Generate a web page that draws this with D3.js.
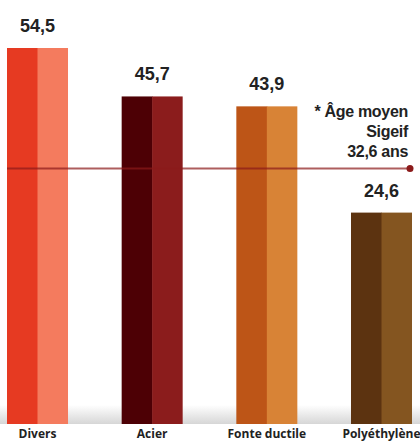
<!DOCTYPE html>
<html><head><meta charset="utf-8">
<script src="https://cdn.jsdelivr.net/npm/d3@7"></script>
<style>body{margin:0;background:#fff}svg{display:block}</style>
</head><body>
<svg id="c" width="420" height="441"></svg>
<script>
const categories = ["Divers", "Acier", "Fonte ductile", "Polyéthylène"];
const values = [54.5, 45.7, 43.9, 24.6];
const valueLabels = ["54,5", "45,7", "43,9", "24,6"];
const colorsDark = ["#e63a22", "#4d0005", "#bd5517", "#5c3310"];
const colorsLight = ["#f47b5e", "#8b1c1c", "#d88336", "#845520"];
const refValue = 32.6;
const refLabel = ["* Âge moyen", "Sigeif", "32,6 ans"];

const svg = d3.select("#c");
const W = 420, base = 424;
const x = d3.scaleBand().domain(categories).range([7, 412]).paddingInner(0.468).paddingOuter(0);
const y = d3.scaleLinear().domain([-13.8, 54.5]).range([base, 48]);

const defs = svg.append("defs");
const g = defs.append("linearGradient").attr("id","sh").attr("x1",0).attr("x2",0).attr("y1",0).attr("y2",1);
g.append("stop").attr("offset","0%").attr("stop-color","#fff");
g.append("stop").attr("offset","100%").attr("stop-color","#d6d6d6");
svg.append("rect").attr("x",0).attr("y",405).attr("width",W).attr("height",base-405).attr("fill","url(#sh)");

const data = categories.map((c,i)=>({c, v:values[i], l:valueLabels[i], d:colorsDark[i], li:colorsLight[i]}));
const bw = x.bandwidth();
const gb = svg.append("g");
gb.selectAll(".a").data(data).join("rect")
  .attr("x", d=>x(d.c)).attr("y", d=>y(d.v)).attr("width", bw/2+0.5).attr("height", d=>base-y(d.v)).attr("fill", d=>d.d);
gb.selectAll(".b").data(data).join("rect")
  .attr("x", d=>x(d.c)+bw/2).attr("y", d=>y(d.v)).attr("width", bw/2).attr("height", d=>base-y(d.v)).attr("fill", d=>d.li);

svg.selectAll(".vl").data(data).join("text")
  .attr("x", d=>x(d.c)+bw/2).attr("y", d=>y(d.v)-16)
  .attr("text-anchor","middle").attr("font-family","Liberation Sans, Arial, sans-serif")
  .attr("font-weight","bold").attr("font-size",18).attr("fill","#222").text(d=>d.l);

svg.selectAll(".cl").data(data).join("text")
  .attr("x", d=>x(d.c)+bw/2).attr("y", 438)
  .attr("text-anchor","middle").attr("font-family","Open Sans, sans-serif")
  .attr("font-weight","700").attr("font-size",12).attr("fill","#222").text(d=>d.c);

const ly = y(refValue);
svg.append("line").attr("x1",7).attr("x2",410).attr("y1",ly).attr("y2",ly)
  .attr("stroke","#8b1a1a").attr("stroke-opacity",0.7).attr("stroke-width",2);
svg.append("circle").attr("cx",410).attr("cy",ly).attr("r",3.5).attr("fill","#8b1a1a");

svg.selectAll(".al").data(refLabel).join("text")
  .attr("x",408).attr("y",(d,i)=>ly-52+i*20)
  .attr("text-anchor","end").attr("font-family","Liberation Sans, Arial, sans-serif")
  .attr("font-weight","bold").attr("font-size",16).attr("letter-spacing",-0.3).attr("fill","#222").text(d=>d);
</script>
</body></html>
